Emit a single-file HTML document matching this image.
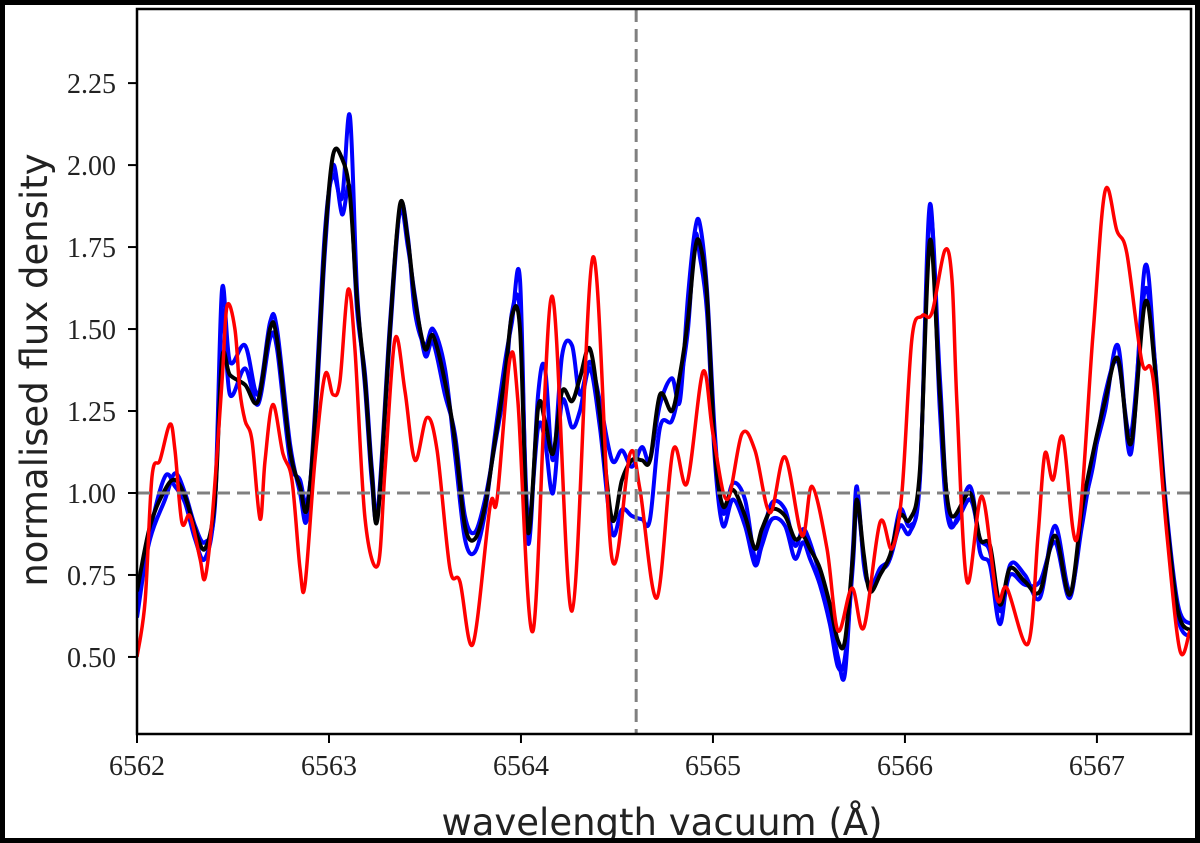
<!DOCTYPE html>
<html><head><meta charset="utf-8"><style>
html,body{margin:0;padding:0;background:#fff;}
#wrap{width:1200px;height:843px;box-sizing:border-box;border:5px solid #000;position:relative;overflow:hidden;}
svg{position:absolute;left:-5px;top:-5px;}
</style></head><body>
<div id="wrap">
<svg id="chart" width="1200" height="843"></svg>
</div>
<script>
const ticksX = [6562, 6563, 6564, 6565, 6566, 6567];
const ticksY = [0.50, 0.75, 1.00, 1.25, 1.50, 1.75, 2.00, 2.25];
const refLine = 6564.60;
const continuum = 1.0;
const wlBase = 6562;
const gridOff = [0,.068,.146,.198,.25,.302,.354,.406,.443,.484,.563,.63,.693,.729,.797,.849,.885,.927,.979,1.021,1.068,1.109,1.146,1.188,1.224,1.255,1.318,1.37,1.411,1.448,1.5,1.542,1.604,1.656,1.708,1.76,1.8125,1.865,1.917,1.953,1.995,2.036,2.089,2.125,2.167,2.214,2.266,2.307,2.359,2.411,2.474,2.526,2.578,2.63,2.672,2.724,2.786,2.828,2.87,2.906,2.932,2.969,3.01,3.052,3.104,3.167,3.219,3.255,3.307,3.375,3.427,3.469,3.505,3.557,3.609,3.651,3.688,3.729,3.75,3.786,3.818,3.87,3.922,3.974,4.026,4.078,4.13,4.182,4.234,4.339,4.391,4.443,4.495,4.547,4.625,4.703,4.781,4.859,4.922,4.979,5.042,5.109,5.177,5.25,5.302,5.354,5.422,5.49];
const blackFlux = [.70,.90,1.01,1.04,.99,.89,.83,.98,1.41,1.36,1.33,1.28,1.50,1.47,1.13,1.02,.95,1.22,1.77,2.03,2.02,1.91,1.59,1.34,1.05,.93,1.50,1.88,1.77,1.59,1.44,1.48,1.34,1.16,.90,.86,.96,1.16,1.36,1.54,1.50,.88,1.26,1.22,1.12,1.31,1.28,1.35,1.44,1.24,.92,1.04,1.10,1.10,1.10,1.30,1.25,1.36,1.53,1.74,1.76,1.60,1.13,.96,1.01,.93,.83,.89,.95,.93,.86,.87,.83,.77,.66,.55,.55,.81,.98,.81,.70,.75,.81,.93,.92,1.07,1.77,1.30,.94,1.00,.86,.84,.66,.77,.73,.70,.87,.69,.95,1.12,1.28,1.41,1.15,1.58,1.38,.98,.64,.58];
const blue1Flux = [.62,.88,1.05,1.02,.97,.86,.80,.98,1.62,1.40,1.45,1.30,1.52,1.50,1.15,1.00,.92,1.25,1.80,1.97,1.90,2.15,1.62,1.32,1.03,.94,1.48,1.87,1.78,1.55,1.45,1.50,1.38,1.12,.86,.82,.94,1.18,1.40,1.52,1.65,.85,1.30,1.38,1.10,1.42,1.45,1.30,1.40,1.28,1.10,1.13,1.08,1.14,1.10,1.27,1.35,1.28,1.60,1.80,1.82,1.62,1.18,.94,1.03,.98,.80,.86,.97,.95,.84,.89,.85,.75,.64,.50,.45,.83,1.02,.78,.72,.76,.80,.95,.90,1.04,1.88,1.25,.90,1.02,.82,.78,.60,.78,.75,.68,.90,.70,.90,1.10,1.25,1.45,1.12,1.69,1.40,.96,.62,.56];
const blue2Flux = [.66,.86,.98,1.06,1.00,.90,.85,.96,1.55,1.30,1.38,1.27,1.47,1.44,1.10,1.04,.97,1.20,1.74,2.00,1.85,1.93,1.56,1.36,1.07,.95,1.52,1.86,1.75,1.60,1.42,1.46,1.30,1.18,.93,.88,.98,1.15,1.33,1.55,1.55,.92,1.20,1.16,1.00,1.28,1.20,1.25,1.38,1.20,.88,.95,.93,.92,.92,1.20,1.22,1.33,1.50,1.78,1.72,1.55,1.10,.90,.98,.90,.78,.84,.92,.90,.80,.85,.80,.72,.60,.47,.50,.78,.97,.80,.71,.77,.80,.90,.88,1.05,1.85,1.35,.92,.98,.86,.82,.64,.75,.72,.73,.85,.68,.93,1.08,1.30,1.40,1.18,1.62,1.40,1.00,.66,.60];
const redOff = [0,.042,.078,.120,.172,.198,.234,.276,.328,.354,.391,.443,.469,.510,.536,.563,.599,.641,.667,.708,.760,.807,.849,.875,.927,.979,1.021,1.057,1.099,1.135,1.188,1.255,1.292,1.344,1.396,1.448,1.510,1.563,1.630,1.682,1.750,1.839,1.875,1.943,1.984,2.063,2.161,2.266,2.375,2.474,2.568,2.620,2.708,2.792,2.865,2.948,3.000,3.073,3.151,3.219,3.297,3.375,3.464,3.516,3.594,3.651,3.724,3.786,3.870,3.932,3.984,4.036,4.089,4.141,4.208,4.245,4.271,4.323,4.401,4.479,4.531,4.641,4.693,4.729,4.771,4.823,4.896,4.979,5.042,5.104,5.156,5.234,5.292,5.365,5.432,5.484];
const redFlux = [.50,.67,1.05,1.10,1.21,1.13,.91,.93,.80,.74,.92,1.34,1.57,1.50,1.31,1.22,1.16,.92,1.10,1.27,1.12,1.04,.77,.72,1.10,1.36,1.30,1.34,1.62,1.44,.92,.78,1.07,1.47,1.31,1.10,1.23,1.13,.77,.73,.54,.96,.98,1.41,1.28,.58,1.60,.64,1.72,.80,1.12,1.01,.68,1.13,1.03,1.37,1.18,.98,1.18,1.13,.94,1.11,.87,1.02,.83,.58,.71,.59,.91,.83,1.00,1.47,1.54,1.55,1.74,1.65,1.27,.73,.99,.68,.71,.54,.87,1.12,1.04,1.17,.86,1.48,1.92,1.80,1.73,1.40,1.35,.87,.52,.58];

const L=137,R=1191,T=9,B=734;
const xmin=6562,xmax=6567.49,ymin=0.265,ymax=2.476;
const sx=v=>L+(v-xmin)/(xmax-xmin)*(R-L);
const sy=v=>B-(v-ymin)/(ymax-ymin)*(B-T);
const NS="http://www.w3.org/2000/svg";
const svg=document.getElementById('chart');
function mk(tag,attrs,parent){const e=document.createElementNS(NS,tag);for(const k in attrs)e.setAttribute(k,attrs[k]);(parent||svg).appendChild(e);return e;}
function smooth(pts){let d=`M${pts[0][0].toFixed(1)},${pts[0][1].toFixed(1)}`;
 for(let i=0;i<pts.length-1;i++){const p0=pts[Math.max(0,i-1)],p1=pts[i],p2=pts[i+1],p3=pts[Math.min(pts.length-1,i+2)];
  const c1=[p1[0]+(p2[0]-p0[0])/6,p1[1]+(p2[1]-p0[1])/6],c2=[p2[0]-(p3[0]-p1[0])/6,p2[1]-(p3[1]-p1[1])/6];
  d+=`C${c1[0].toFixed(1)},${c1[1].toFixed(1)} ${c2[0].toFixed(1)},${c2[1].toFixed(1)} ${p2[0].toFixed(1)},${p2[1].toFixed(1)}`;}
 return d;}
const clip=mk('clipPath',{id:'pc'});mk('rect',{x:L,y:T,width:R-L,height:B-T},clip);
const g=mk('g',{'clip-path':'url(#pc)'});


function series(offs,vals,color,w,name){const n=Math.min(offs.length,vals.length);const pts=[];
 for(let i=0;i<n;i++)pts.push([sx(wlBase+offs[i]),sy(vals[i])]);
 const p=mk('path',{d:smooth(pts),fill:'none',stroke:color,'stroke-width':w,'stroke-linejoin':'round'},g);
 
 }
series(gridOff,blue1Flux,'#0000ff',4,'blue-series-1');
series(gridOff,blue2Flux,'#0000ff',4,'blue-series-2');
series(gridOff,blackFlux,'#000000',4,'black-series');
series(redOff,redFlux,'#ff0000',3.5,'red-series');
const hl=mk('line',{x1:L,x2:R,y1:sy(continuum),y2:sy(continuum),stroke:'#808080','stroke-width':3,'stroke-dasharray':'13 7'});


const vl=mk('line',{x1:sx(refLine),x2:sx(refLine),y1:T,y2:B,stroke:'#808080','stroke-width':3,'stroke-dasharray':'13 7'});


const fr=mk('rect',{x:L,y:T,width:R-L,height:B-T,fill:'none',stroke:'#000','stroke-width':2.5});


ticksX.forEach(v=>{const x=sx(v);
 const t=mk('line',{x1:x,x2:x,y1:B,y2:B+9,stroke:'#000','stroke-width':2});
 
 
 const tx=mk('text',{x:x,y:775,'text-anchor':'middle','font-family':'Liberation Serif, serif','font-size':28,fill:'#222'});
 tx.textContent=v;
 
 });
ticksY.forEach(v=>{const y=sy(v);
 const t=mk('line',{x1:L-9,x2:L,y1:y,y2:y,stroke:'#000','stroke-width':2});
 
 
 const tx=mk('text',{x:L-21,y:y+10,'text-anchor':'end','font-family':'Liberation Serif, serif','font-size':28,fill:'#222'});
 tx.textContent=v.toFixed(2);
 
 });
const xl=mk('text',{x:662,y:835,'text-anchor':'middle','font-family':'DejaVu Sans, sans-serif','font-size':37,fill:'#222'});
xl.textContent='wavelength vacuum (Å)';


const yl=mk('text',{x:0,y:0,'text-anchor':'middle','font-family':'DejaVu Sans, sans-serif','font-size':37,fill:'#222',transform:'translate(47,370) rotate(-90)'});
yl.textContent='normalised flux density';


</script>
</body></html>
